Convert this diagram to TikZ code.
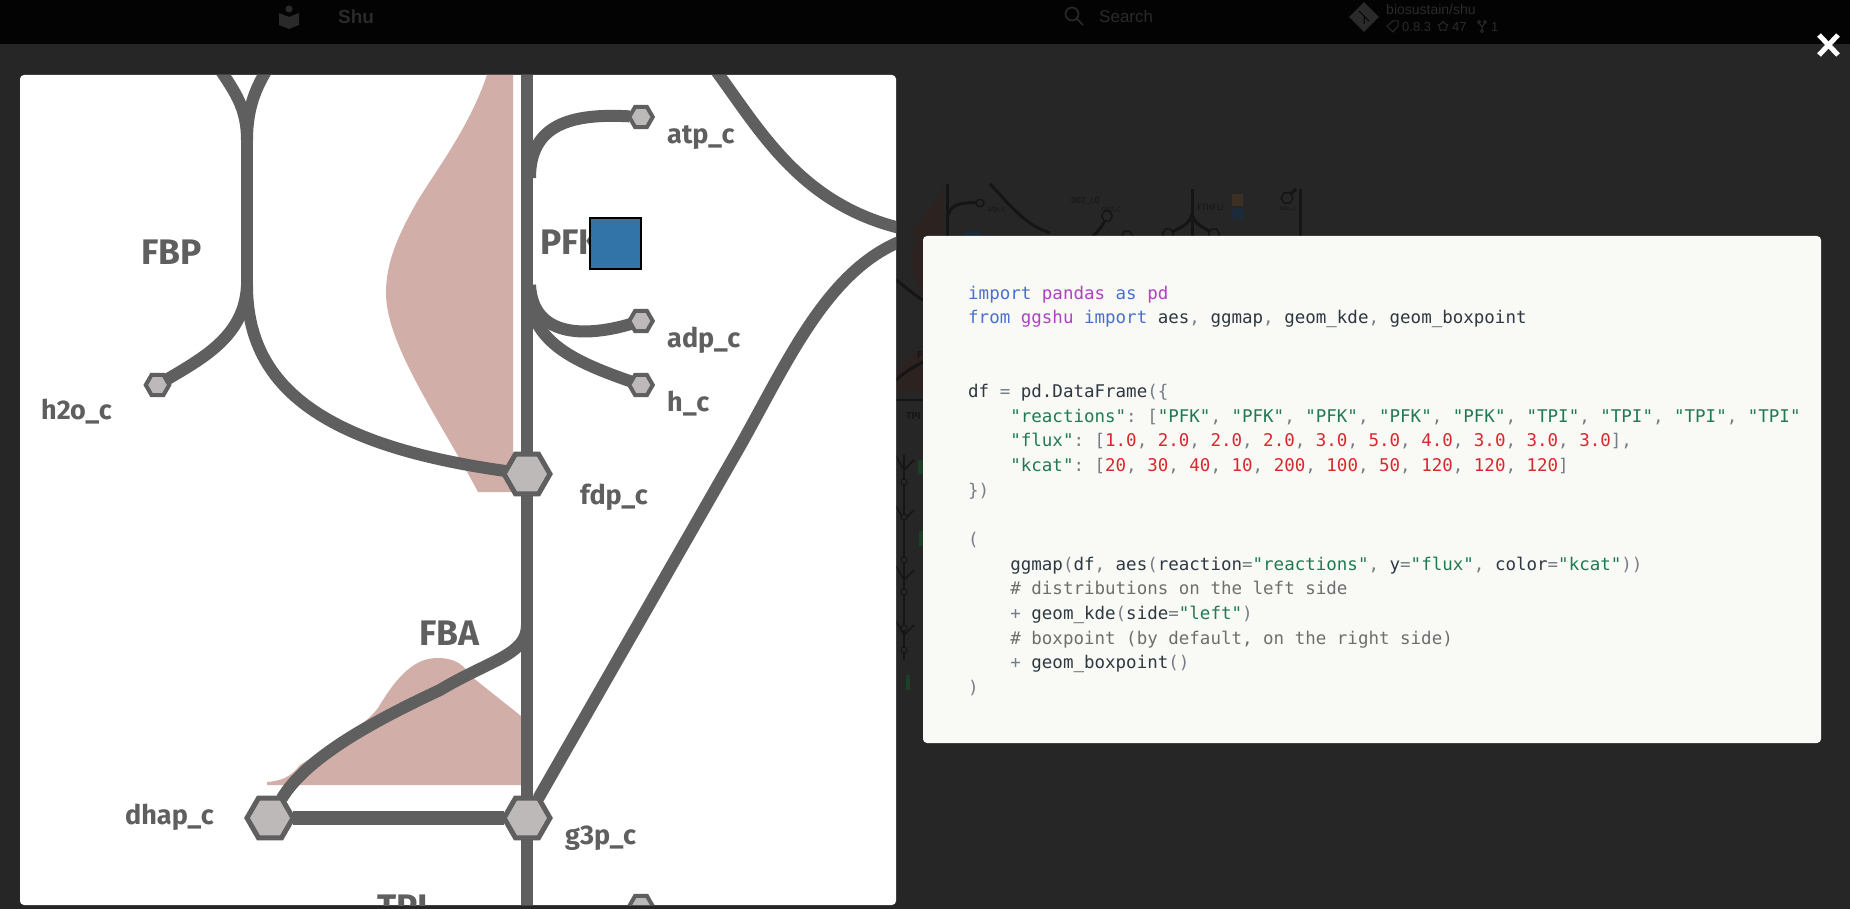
\documentclass[tikz,border=0pt]{standalone}
\usepackage{fontspec}
\usepackage{xcolor}
\setmainfont{Liberation Sans}
\newfontfamily\mapfont{Fira Sans}
\newfontfamily\codefont{DejaVu Sans Mono}
\usetikzlibrary{
    shapes.geometric,
    calc,
    positioning
}
\definecolor{pagebg}{HTML}{262626}
\definecolor{barbg}{HTML}{030303}
\definecolor{barfg}{HTML}{2A2A2A}
\definecolor{edgegray}{HTML}{5F5F5F}
\definecolor{hexgray}{HTML}{BDB9B8}
\definecolor{kdepink}{HTML}{D2AEA8}
\definecolor{boxblue}{HTML}{3274A8}
\definecolor{codebg}{HTML}{F9FAF5}
\definecolor{ghost}{HTML}{151515}
\definecolor{ghostfill}{HTML}{2C2321}
\definecolor{ghosttext}{HTML}{161616}
\definecolor{ghostorange}{HTML}{3B3024}
\definecolor{ghostblue}{HTML}{1C2A3A}
\definecolor{ghostgreen}{HTML}{1C3F28}
\definecolor{kwdcol}{HTML}{4A6FD0}
\definecolor{libcol}{HTML}{B040C4}
\definecolor{strcol}{HTML}{1F7A52}
\definecolor{numcol}{HTML}{D9272E}
\definecolor{txtcol}{HTML}{2E3842}
\definecolor{cmtcol}{HTML}{6E6E6E}
\definecolor{pnccol}{HTML}{757D86}
\newcommand{\kwd}[1]{\textcolor{kwdcol}{#1}}
\newcommand{\lib}[1]{\textcolor{libcol}{#1}}
\newcommand{\strg}[1]{\textcolor{strcol}{"#1"}}
\newcommand{\numb}[1]{\textcolor{numcol}{#1}}
\newcommand{\cmnt}[1]{\textcolor{cmtcol}{#1}}
\newcommand{\pnc}[1]{\textcolor{pnccol}{#1}}
\newcommand{\ind}{\phantom{xxxx}}
\tikzset{
    bighex/.style={regular polygon, regular polygon sides=6, draw=edgegray, fill=hexgray, line width=5pt, minimum size=46pt, inner sep=0pt, outer sep=0pt},
    smallhex/.style={regular polygon, regular polygon sides=6, draw=edgegray, fill=hexgray, line width=4pt, minimum size=23.5pt, inner sep=0pt, outer sep=0pt},
    ghosthex/.style={regular polygon, regular polygon sides=6, draw=ghost, fill=pagebg, line width=1.5pt, minimum size=#1, inner sep=0pt, outer sep=0pt},
    fat/.style={draw=edgegray, line width=12pt},
    thin/.style={draw=edgegray, line width=12pt},
    reaclabel/.style={anchor=base west, text=edgegray, inner sep=0pt, font=\mapfont\bfseries\fontsize{35.5}{35.5}\selectfont},
    metlabel/.style={anchor=base west, text=edgegray, inner sep=0pt, font=\mapfont\bfseries\fontsize{27}{27}\selectfont},
    barlabel/.style={anchor=base west, text=barfg, inner sep=0pt},
    ghostlabel/.style={anchor=base west, text=ghosttext, inner sep=0pt},
    ghostline/.style={draw=ghost, line width=3pt}
}
\begin{document}
\begin{tikzpicture}[x=1pt, y=-1pt]
    \useasboundingbox (0,0) rectangle (1850,909);
    \fill[pagebg] (0,0) rectangle (1850,909);

    % top bar
    \fill[barbg] (0,0) rectangle (1850,44);
    \fill[barfg] (279,13) -- (289,17) -- (299,13) -- (299,25) -- (289,29) -- (279,25) -- cycle;
    \fill[barfg] (289,9) circle (3.5);
    \node[barlabel, font=\bfseries\fontsize{19}{19}\selectfont] (title) at (338,23.5) {Shu};
    \draw[barfg, line width=1.6pt] (1072,14) circle (6.5) (1077,19) -- (1083,25);
    \node[barlabel, font=\fontsize{17}{17}\selectfont] (search) at (1099,23) {Search};
    \fill[barfg, rotate around={45:(1364,17)}] (1353.5,6.5) rectangle (1374.5,27.5);
    \draw[barbg, line width=1pt] (1359,11) -- (1369,21) (1364,16) -- (1364,24);
    \node[barlabel, font=\fontsize{14}{14}\selectfont] (repo) at (1386,15) {biosustain/shu};
    \draw[barfg, line width=1pt] (1387,26) -- (1393,21) -- (1398,21) -- (1398,26) -- (1393,32) -- cycle;
    \node[barlabel, font=\fontsize{13}{13}\selectfont] (version) at (1402,32) {0.8.3};
    \node[star, star points=5, draw=barfg, line width=1pt, minimum size=10pt, inner sep=0pt] (staricon) at (1443,26.5) {};
    \node[barlabel, font=\fontsize{13}{13}\selectfont] (stars) at (1452,32) {47};
    \draw[barfg, line width=1pt] (1479,23) -- (1482,27) -- (1485,23) (1482,27) -- (1482,30);
    \draw[barfg, line width=1pt] (1479,22) circle (1.5) (1485,22) circle (1.5) (1482,31) circle (1.5);
    \node[barlabel, font=\fontsize{13}{13}\selectfont] (forks) at (1491,32) {1};

    % dimmed map behind the overlay
    \fill[ghostfill] (943,184) .. controls (935,205) and (920,220) .. (910,236) -- (943,236) -- cycle;
    \fill[ghostfill] (923,230) .. controls (908,245) and (908,275) .. (923,293) -- cycle;
    \fill[ghostfill] (896,392) -- (896,372) .. controls (905,358) and (915,352) .. (923,350) -- (923,392) -- cycle;
    \node[ghosthex=8pt] (gatp) at (980,203) {};
    \node[ghosthex=11pt] (gnad) at (1107,216) {};
    \node[ghosthex=11pt] (gfol) at (1127,236) {};
    \node[ghosthex=11pt] (gthf) at (1168,234) {};
    \node[ghosthex=11pt] (gadp) at (1214,234) {};
    \node[ghosthex=12pt] (gwat) at (1287,198) {};
    \coordinate (gatpjoin) at (947,220);
    \coordinate (gnadend) at (1093,236);
    \coordinate (gforkjoin) at (1192,214);
    \coordinate (gforktop) at (1192,189);
    \coordinate (gforkbot) at (1192,236);
    \draw[ghostline] (947,184) -- (947,236);
    \draw[ghostline] (gatp) .. controls (960,202) and (948,205) .. (gatpjoin);
    \draw[ghostline] (990,184) .. controls (1010,205) and (1025,225) .. (1050,233);
    \draw[ghostline] (gnad) .. controls (1103,225) and (1098,232) .. (gnadend);
    \draw[ghostline] (gforktop) -- (gforkbot);
    \draw[ghostline] (gthf) .. controls (1180,228) and (1190,224) .. (gforkjoin);
    \draw[ghostline] (gadp) .. controls (1204,228) and (1194,224) .. (gforkjoin);
    \draw[ghostline] (gwat) -- (1296,189);
    \draw[ghostline] (1300,189) -- (1300,236);
    \fill[ghostorange] (1232,194) rectangle (1243,206);
    \fill[ghostblue] (1232,208) rectangle (1244,219);
    \fill[ghostblue] (965,231) rectangle (980,236);
    \node[ghostlabel, font=\mapfont\fontsize{7}{7}\selectfont] (gatplabel) at (988,212) {atp\_c};
    \node[ghostlabel, font=\mapfont\fontsize{9}{9}\selectfont] (gcotwo) at (1071,204) {002\_c0};
    \node[ghostlabel, font=\mapfont\fontsize{7}{7}\selectfont] (gnadlabel) at (1101,212) {nad\_c};
    \node[ghostlabel, font=\mapfont\fontsize{9}{9}\selectfont] (gfthfli) at (1197,211) {FTHFLi};
    \node[ghostlabel, font=\mapfont\fontsize{6}{6}\selectfont] (gwatlabel) at (1280,211) {h2o\_c};
    \node[ghostlabel, font=\mapfont\bfseries\fontsize{10}{10}\selectfont] (gtpi) at (906,419) {TPI};
    \node[ghostlabel, font=\mapfont\bfseries\fontsize{10}{10}\selectfont] (gfba) at (917,359) {F};
    \draw[ghostline] (896,280) .. controls (905,286) and (915,296) .. (923,300);
    \draw[ghostline] (896,380) .. controls (905,372) and (915,366) .. (923,362);
    \draw[ghostline, line width=2.5pt] (896,400) -- (923,400);
    \draw[ghostline, line width=2pt] (904,455) -- (904,660);
    \foreach \ybranch in {470,520,580,635} {
        \draw[ghostline, line width=1.5pt] (896,\ybranch-14) -- (904,\ybranch) -- (914,\ybranch-10);
    }
    \foreach \ydot in {482,517,560,592,628,650} {
        \draw[ghost, fill=pagebg, line width=1pt] (904,\ydot) circle (3);
    }
    \fill[ghostgreen] (918,460) rectangle (923,474);
    \fill[ghostgreen] (919,531) rectangle (923,546);
    \fill[ghostgreen] (906,675) rectangle (910,690);

    % map panel
    \fill[white, rounded corners=4pt] (20,75) rectangle (896,905);
    \begin{scope}
        \clip[rounded corners=4pt] (20,75) rectangle (896,905);

        \fill[kdepink] (487,75) .. controls (470,125) and (440,165) .. (418,200)
            .. controls (400,232) and (386,260) .. (386,293)
            .. controls (386,345) and (440,420) .. (478,492) -- (513,492) -- (513,75) -- cycle;
        \fill[kdepink] (267,785) -- (267,782) .. controls (280,781) and (290,778) .. (300,765)
            .. controls (340,740) and (365,725) .. (378,708)
            .. controls (392,685) and (410,658) .. (437,658)
            .. controls (455,658) and (463,664) .. (472,677)
            -- (521,716) -- (521,785) -- cycle;

        \node[bighex] (fdp) at (527,474) {};
        \node[bighex] (g3p) at (527,818) {};
        \node[bighex] (dhap) at (270,818) {};
        \node[smallhex] (atp) at (641,117) {};
        \node[smallhex] (adp) at (641,321) {};
        \node[smallhex] (hc) at (641,385) {};
        \node[smallhex] (water) at (157.5,385) {};
        \node[smallhex] (nextmet) at (641,906) {};

        \coordinate (maintop) at (527,70);
        \coordinate (mainbot) at (527,910);
        \coordinate (fbptop) at (247,140);
        \coordinate (fbpbot) at (247,285);
        \coordinate (fbpleft) at (219,68);
        \coordinate (fbpright) at (268,68);
        \coordinate (pfkup) at (530,178);
        \coordinate (pfkadp) at (530,285);
        \coordinate (pfkh) at (530,305);
        \coordinate (fbajoin) at (527,625);
        \coordinate (fbamid) at (440,690);
        \coordinate (sidetop) at (714,68);
        \coordinate (sideup) at (904,229);
        \coordinate (sidelow) at (904,240);
        \coordinate (sidemid) at (735,455);

        \draw[thin] (maintop) -- (fdp);
        \draw[thin] (fdp) -- (g3p);
        \draw[thin] (g3p) -- (mainbot);
        \draw[thin, line width=14pt] (dhap) -- (g3p);
        \draw[thin] (fbptop) -- (fbpbot);
        \draw[thin] (fbpleft) .. controls (235,92) and (247,108) .. (fbptop);
        \draw[thin] (fbpright) .. controls (256,87) and (247,108) .. (fbptop);
        \draw[thin] (fbpbot) .. controls (247,385) and (320,445) .. (fdp);
        \draw[fat] (water) .. controls (205,357) and (245,335) .. (fbpbot);
        \draw[fat] (atp) .. controls (570,113) and (530,125) .. (pfkup);
        \draw[fat] (adp) .. controls (590,336) and (533,340) .. (pfkadp);
        \draw[fat] (hc) .. controls (575,362) and (540,345) .. (pfkh);
        \draw[fat] (fbajoin) .. controls (527,655) and (490,660) .. (fbamid)
            .. controls (365,725) and (305,760) .. (dhap);
        \draw[thin] (sidetop) .. controls (760,130) and (800,205) .. (sideup);
        \draw[thin] (g3p) -- (sidemid) .. controls (785,368) and (825,270) .. (sidelow);

        \node[reaclabel] (fbplabel) at (141,265) {FBP};
        \node[reaclabel] (pfklabel) at (540,255) {PFK};
        \node[reaclabel] (fbalabel) at (419,645) {FBA};
        \node[reaclabel] (tpilabel) at (377,919) {TPI};
        \node[metlabel] (atplabel) at (667,144) {atp\_c};
        \node[metlabel] (adplabel) at (667,347) {adp\_c};
        \node[metlabel] (hlabel) at (667,411) {h\_c};
        \node[metlabel] (waterlabel) at (41,419) {h2o\_c};
        \node[metlabel] (fdplabel) at (580,504) {fdp\_c};
        \node[metlabel] (g3plabel) at (565,844) {g3p\_c};
        \node[metlabel] (dhaplabel) at (125,824) {dhap\_c};

        \node[draw=black, fill=boxblue, line width=2pt, minimum size=51pt, inner sep=0pt] (pfkbox) at (615.5,244) {};
    \end{scope}

    % code panel
    \fill[codebg, rounded corners=4pt] (923,236) rectangle (1821,743);
    \node[anchor=north west, inner sep=0pt, align=left, text=txtcol,
        font=\codefont\fontsize{17.5}{24.65}\selectfont\frenchspacing] (code) at (968,285.5) {%
        \kwd{import} \lib{pandas} \kwd{as} \lib{pd}\\
        \kwd{from} \lib{ggshu} \kwd{import} aes\pnc{,} ggmap\pnc{,} geom\_kde\pnc{,} geom\_boxpoint\\
        \mbox{}\\
        \mbox{}\\
        df \pnc{=} pd.DataFrame\pnc{(\{}\\
        \ind\strg{reactions}\pnc{:} \pnc{[}\strg{PFK}\pnc{,} \strg{PFK}\pnc{,} \strg{PFK}\pnc{,} \strg{PFK}\pnc{,} \strg{PFK}\pnc{,} \strg{TPI}\pnc{,} \strg{TPI}\pnc{,} \strg{TPI}\pnc{,} \strg{TPI}\\
        \ind\strg{flux}\pnc{:} \pnc{[}\numb{1.0}\pnc{,} \numb{2.0}\pnc{,} \numb{2.0}\pnc{,} \numb{2.0}\pnc{,} \numb{3.0}\pnc{,} \numb{5.0}\pnc{,} \numb{4.0}\pnc{,} \numb{3.0}\pnc{,} \numb{3.0}\pnc{,} \numb{3.0}\pnc{],}\\
        \ind\strg{kcat}\pnc{:} \pnc{[}\numb{20}\pnc{,} \numb{30}\pnc{,} \numb{40}\pnc{,} \numb{10}\pnc{,} \numb{200}\pnc{,} \numb{100}\pnc{,} \numb{50}\pnc{,} \numb{120}\pnc{,} \numb{120}\pnc{,} \numb{120}\pnc{]}\\
        \pnc{\})}\\
        \mbox{}\\
        \pnc{(}\\
        \ind ggmap\pnc{(}df\pnc{,} aes\pnc{(}reaction\pnc{=}\strg{reactions}\pnc{,} y\pnc{=}\strg{flux}\pnc{,} color\pnc{=}\strg{kcat}\pnc{))}\\
        \ind\cmnt{\# distributions on the left side}\\
        \ind\pnc{+} geom\_kde\pnc{(}side\pnc{=}\strg{left}\pnc{)}\\
        \ind\cmnt{\# boxpoint (by default, on the right side)}\\
        \ind\pnc{+} geom\_boxpoint\pnc{()}\\
        \pnc{)}
    };

    % close button
    \coordinate (closea) at (1819,35);
    \coordinate (closeb) at (1838,55);
    \coordinate (closec) at (1838,35);
    \coordinate (closed) at (1819,55);
    \draw[white, line width=5pt] (closea) -- (closeb);
    \draw[white, line width=5pt] (closec) -- (closed);
\end{tikzpicture}
\end{document}
